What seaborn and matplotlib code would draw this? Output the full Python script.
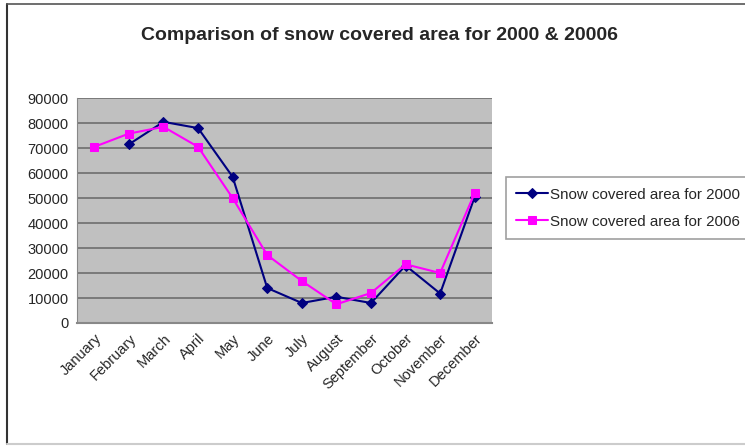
import matplotlib
matplotlib.use("Agg")
import matplotlib.pyplot as plt
import numpy as np
import pandas as pd
import seaborn as sns
from matplotlib.lines import Line2D

months = ["January", "February", "March", "April", "May", "June", "July",
          "August", "September", "October", "November", "December"]
area_2000 = [np.nan, 71500, 80500, 78000, 58500, 14000, 8000, 10500, 8000, 23000, 11800, 50500]
area_2006 = [70500, 75800, 78500, 70500, 50000, 27200, 16800, 7500, 12000, 23500, 20000, 52000]
label_2000 = "Snow covered area for 2000"
label_2006 = "Snow covered area for 2006"

df = pd.DataFrame({"month": months, "a2000": area_2000, "a2006": area_2006})
df["pos"] = np.arange(len(months))

sns.set_style("white")
plt.rcParams["font.family"] = ["Liberation Sans", "DejaVu Sans"]

fig = plt.figure(figsize=(7.45, 4.46), dpi=100)
ax = fig.add_axes([0.1034, 0.2758, 0.557, 0.5042])
ax.set_facecolor("#c0c0c0")

sns.lineplot(data=df, x="pos", y="a2000", ax=ax, color="#000080", marker="D",
             markersize=5.5, linewidth=1.5, label=label_2000, markeredgecolor="#000080")
sns.lineplot(data=df, x="pos", y="a2006", ax=ax, color="#ff00ff", marker="s",
             markersize=6, linewidth=1.5, label=label_2006, markeredgecolor="#ff00ff")

ax.set_xlim(-0.5, len(months) - 0.5)
ax.set_ylim(0, 90000)
ax.set_yticks(np.arange(0, 90001, 10000))
ax.set_yticklabels([str(v) for v in range(0, 90001, 10000)], fontsize=10.5)
ax.grid(axis="y", color="#6e6e6e", linewidth=1.2)
ax.set_axisbelow(True)

ax.set_xticks(df["pos"])
ax.set_xticklabels(months, rotation=45, ha="right", rotation_mode="anchor", fontsize=10.5)
ax.tick_params(axis="x", which="major", length=0, pad=6)
ax.set_xticks(np.arange(-0.5, len(months), 1.0), minor=True)
ax.tick_params(axis="x", which="minor", length=5, color="#666666")
ax.tick_params(axis="y", length=4, color="#666666", pad=2)
ax.set_xlabel("")
ax.set_ylabel("")
for side in ["top", "right"]:
    ax.spines[side].set_visible(False)
ax.spines["left"].set_color("#888888")
ax.spines["bottom"].set_color("#888888")
ax.spines["bottom"].set_linewidth(1.5)

leg = ax.legend(loc="upper left", bbox_to_anchor=(0.679, 0.603), bbox_transform=fig.transFigure,
                fontsize=10.9, frameon=True, fancybox=False, handlelength=2.1,
                handletextpad=0.1, borderpad=0.7, labelspacing=0.85, borderaxespad=0)
leg.get_frame().set_edgecolor("#888888")
leg.get_frame().set_linewidth(1.2)

fig.text(0.51, 0.92, "Comparison of snow covered area for 2000 & 20006",
         ha="center", va="center", fontsize=14, fontweight="bold")

# outer frame of the chart (left/top dark, bottom light, right cut off)
fig.add_artist(Line2D([0.009, 0.009], [0.005, 0.99], transform=fig.transFigure,
                      color="#333333", linewidth=1.5))
fig.add_artist(Line2D([0.009, 1.0], [0.99, 0.99], transform=fig.transFigure,
                      color="#555555", linewidth=1.2))
fig.add_artist(Line2D([0.009, 1.0], [0.005, 0.005], transform=fig.transFigure,
                      color="#cccccc", linewidth=1.5))

fig.savefig("out.png", dpi=100)
